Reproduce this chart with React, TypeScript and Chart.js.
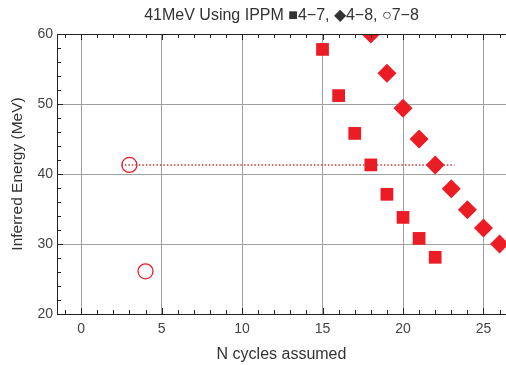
import React, { useEffect, useRef } from "react";
import { Chart, registerables } from "chart.js";

Chart.register(...registerables);

const TITLE = "41MeV Using IPPM \u25A04\u22127, \u25C64\u22128, \u25CB7\u22128";
const X_LABEL = "N cycles assumed";
const Y_LABEL = "Inferred Energy (MeV)";

const xTickValues = [0, 5, 10, 15, 20, 25];
const yTickValues = [20, 30, 40, 50, 60];

const ippm47X = [15, 16, 17, 18, 19, 20, 21, 22];
const ippm47Y = [57.8, 51.2, 45.8, 41.3, 37.1, 33.8, 30.8, 28.1];

const ippm48X = [18, 19, 20, 21, 22, 23, 24, 25, 26];
const ippm48Y = [60.0, 54.4, 49.4, 45.0, 41.3, 37.9, 34.9, 32.3, 30.0];

const ippm78X = [3, 4];
const ippm78Y = [41.3, 26.1];

const refLineX = [2.5, 23.2];
const refLineY = [41.3, 41.3];

const X_MIN = -1.5;
const X_MAX = 26.4;
const Y_MIN = 20;
const Y_MAX = 60;

const RED = "#ec1c24";
const FONT = "'Liberation Sans', Arial, sans-serif";

const zip = (xs: number[], ys: number[]) => xs.map((x, i) => ({ x, y: ys[i] }));

const framePlugin = {
  id: "frameTicks",
  afterDatasetsDraw(chart: any) {
    const { ctx, chartArea } = chart;
    const xs = chart.scales.x;
    const ys = chart.scales.y;
    ctx.save();
    ctx.strokeStyle = "#222";
    ctx.lineWidth = 1;
    ctx.beginPath();
    ctx.moveTo(chartArea.left + 0.5, chartArea.top + 0.5);
    ctx.lineTo(chartArea.left + 0.5, chartArea.bottom + 0.5);
    ctx.lineTo(chartArea.right, chartArea.bottom + 0.5);
    ctx.moveTo(chartArea.left + 0.5, chartArea.top + 0.5);
    ctx.lineTo(chartArea.right, chartArea.top + 0.5);
    ctx.stroke();
    ctx.beginPath();
    for (let v = Math.ceil(X_MIN); v <= Math.floor(X_MAX); v++) {
      const px = Math.round(xs.getPixelForValue(v)) + 0.5;
      const len = v % 5 === 0 ? 6 : 4;
      ctx.moveTo(px, chartArea.bottom);
      ctx.lineTo(px, chartArea.bottom - len);
      ctx.moveTo(px, chartArea.top);
      ctx.lineTo(px, chartArea.top + len);
    }
    for (let v = Y_MIN; v <= Y_MAX; v += 2) {
      const py = Math.round(ys.getPixelForValue(v)) + 0.5;
      const len = v % 10 === 0 ? 6 : 4;
      ctx.moveTo(chartArea.left, py);
      ctx.lineTo(chartArea.left + len, py);
    }
    ctx.stroke();
    ctx.restore();
  },
};

export default function App() {
  const ref = useRef<HTMLCanvasElement | null>(null);

  useEffect(() => {
    document.body.style.margin = "0";
    if (!ref.current) return;
    const chart = new Chart(ref.current, {
      type: "scatter",
      data: {
        datasets: [
          {
            type: "line",
            label: "ref",
            data: zip(refLineX, refLineY),
            borderColor: "#c0393b",
            borderWidth: 1.5,
            borderDash: [1.5, 2],
            pointRadius: 0,
            fill: false,
          } as any,
          {
            label: "4-7",
            data: zip(ippm47X, ippm47Y),
            pointStyle: "rect",
            pointRadius: 9,
            backgroundColor: RED,
            borderColor: RED,
            borderWidth: 0,
            clip: 0,
          } as any,
          {
            label: "4-8",
            data: zip(ippm48X, ippm48Y),
            pointStyle: "rectRot",
            pointRadius: 9.5,
            backgroundColor: RED,
            borderColor: RED,
            borderWidth: 0,
            clip: 0,
          } as any,
          {
            label: "7-8",
            data: zip(ippm78X, ippm78Y),
            pointStyle: "circle",
            pointRadius: 7.5,
            backgroundColor: "rgba(0,0,0,0)",
            borderColor: RED,
            borderWidth: 1.3,
            clip: 0,
          } as any,
        ],
      },
      options: {
        animation: false,
        responsive: false,
        devicePixelRatio: 1,
        layout: { padding: 0, autoPadding: false },
        plugins: {
          legend: { display: false },
          tooltip: { enabled: false },
          title: {
            display: true,
            text: TITLE,
            color: "#333",
            fullSize: false,
            font: { family: FONT, size: 16, weight: "normal" },
            padding: { top: 6.4, bottom: 8.4 },
          },
        },
        scales: {
          x: {
            type: "linear",
            min: X_MIN,
            max: X_MAX,
            afterBuildTicks: (s: any) => {
              s.ticks = xTickValues.map((v) => ({ value: v }));
            },
            afterFit: (s: any) => {
              s.height = 51;
              s.paddingLeft = 0;
              s.paddingRight = 0;
            },
            grid: { color: "#a0a0a0", lineWidth: 1, drawTicks: false },
            border: { display: false },
            ticks: {
              color: "#444",
              font: { family: FONT, size: 14 },
              padding: 7,
              maxRotation: 0,
            },
            title: {
              display: true,
              text: X_LABEL,
              color: "#333",
              font: { family: FONT, size: 16 },
              padding: { top: 2, bottom: 1 },
            },
          },
          y: {
            type: "linear",
            min: Y_MIN,
            max: Y_MAX,
            afterBuildTicks: (s: any) => {
              s.ticks = yTickValues.map((v) => ({ value: v }));
            },
            afterFit: (s: any) => {
              s.width = 57;
              s.paddingTop = 0;
              s.paddingBottom = 0;
            },
            grid: { color: "#a0a0a0", lineWidth: 1, drawTicks: false },
            border: { display: false },
            ticks: {
              color: "#444",
              font: { family: FONT, size: 14 },
              padding: 4,
            },
            title: {
              display: true,
              text: Y_LABEL,
              color: "#333",
              font: { family: FONT, size: 15.5 },
              padding: { top: 8, bottom: 0 },
            },
          },
        },
      },
      plugins: [framePlugin],
    });
    return () => chart.destroy();
  }, []);

  return (
    <div style={{ width: 506, height: 365 }}>
      <canvas ref={ref} width={506} height={365} />
    </div>
  );
}
